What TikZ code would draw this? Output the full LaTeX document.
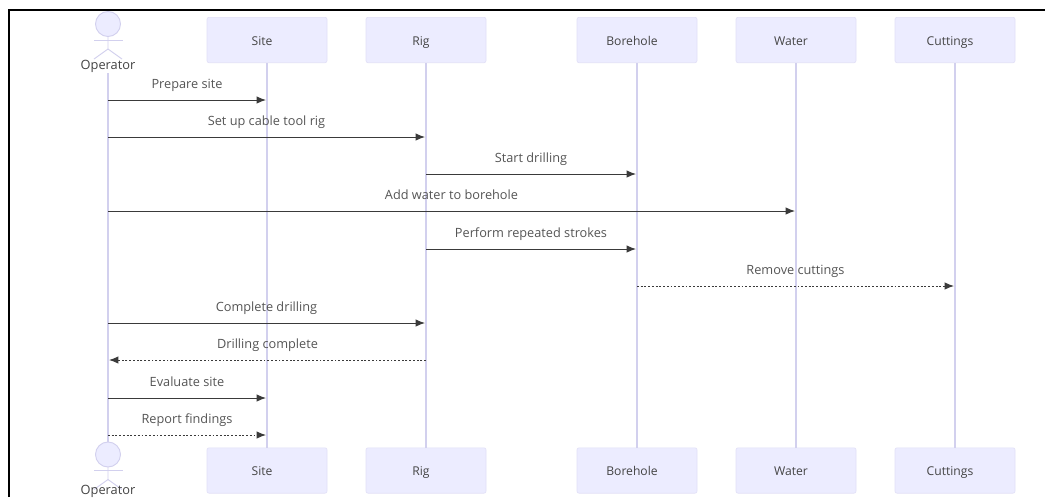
\documentclass[tikz,border=0pt]{standalone}
\usepackage{fontspec}
\setmainfont{Open Sans}
\usetikzlibrary{arrows.meta}
\definecolor{actfill}{HTML}{ECECFF}
\definecolor{actline}{HTML}{E2E0F7}
\definecolor{lifeline}{HTML}{D2D0EE}
\definecolor{msgline}{HTML}{3A3A3A}
\definecolor{msgtext}{HTML}{555555}
\definecolor{boxtext}{HTML}{444444}
\tikzset{
  x=0.75pt,y=-0.75pt,
  actorbox/.style={draw=actline,fill=actfill,rounded corners=1.5pt,line width=0.5pt,minimum width=90pt,minimum height=34pt,inner sep=0pt},
  boxlabel/.style={font=\fontsize{9.1}{10}\selectfont,text=boxtext,inner sep=0pt,anchor=base},
  life/.style={draw=lifeline,line width=0.9pt},
  stick/.style={draw=lifeline,line width=0.7pt},
  msg/.style={draw=msgline,line width=0.7pt,-{Latex[length=7pt,width=5.5pt]}},
  reply/.style={msg,dash pattern=on 1.4pt off 1.4pt},
  msglabel/.style={font=\fontsize{9.55}{10}\selectfont,text=msgtext,inner sep=0pt,anchor=base},
  oplabel/.style={font=\fontsize{9.6}{10}\selectfont,text=boxtext,inner sep=0pt,anchor=base},
  point/.style={inner sep=0pt,minimum size=0pt},
}
\begin{document}
\begin{tikzpicture}
\useasboundingbox (0,0) rectangle (1045,497);
\fill[white] (0,0) rectangle (1045,497);
\draw[black,line width=1.5pt] (9,497) -- (9,10) -- (1045,10);

% lifelines
\node[point] (opT) at (108,73) {};
\node[point] (opB) at (108,445) {};
\draw[life] (opT) -- (opB);
\foreach \n/\x/\lab in {site/267/Site,rig/426/Rig,bore/637/Borehole,water/796/Water,cut/955/Cuttings}{
  \node[actorbox] (\n T) at (\x,40) {};
  \node[actorbox] (\n B) at (\x,470.5) {};
  \draw[life] (\n T) -- (\n B);
  \node[boxlabel] (\n TL) at (\x-5,45) {\lab};
  \node[boxlabel] (\n BL) at (\x-5,475.5) {\lab};
}
% actors
\foreach \n/\y in {top/24,bot/454.5}{
  \draw[stick,fill=actfill] (108,\y) circle (12.5);
  \draw[stick] (94,\y+16) -- (122.5,\y+16);
  \draw[stick] (108,\y+12.5) -- (108,\y+25) -- (94,\y+35);
  \draw[stick] (108,\y+25) -- (122,\y+35);
}
\node[oplabel] (opTL) at (108,69) {Operator};
\node[oplabel] (opBL) at (108,494) {Operator};

% message anchors and arrows
\newcommand{\mymsg}[6]{%
  \coordinate (a#1) at (#2,#4);
  \coordinate (b#1) at (#3,#4);
  \draw[#5] (a#1) -- (b#1);
  \node[msglabel] (l#1) at ({#2/2+#3/2},#4-12) {#6};
}
\mymsg{1}{108}{266}{100}{msg}{Prepare site}
\mymsg{2}{108}{425}{137}{msg}{Set up cable tool rig}
\mymsg{3}{426}{636}{174}{msg}{Start drilling}
\mymsg{4}{108}{795}{211}{msg}{Add water to borehole}
\mymsg{5}{426}{636}{249}{msg}{Perform repeated strokes}
\mymsg{6}{637}{954}{286}{reply}{Remove cuttings}
\mymsg{7}{108}{425}{323}{msg}{Complete drilling}
\mymsg{8}{426}{109}{360}{reply}{Drilling complete}
\mymsg{9}{108}{266}{398}{msg}{Evaluate site}
\mymsg{10}{108}{266}{435}{reply}{Report findings}
\end{tikzpicture}
\end{document}
